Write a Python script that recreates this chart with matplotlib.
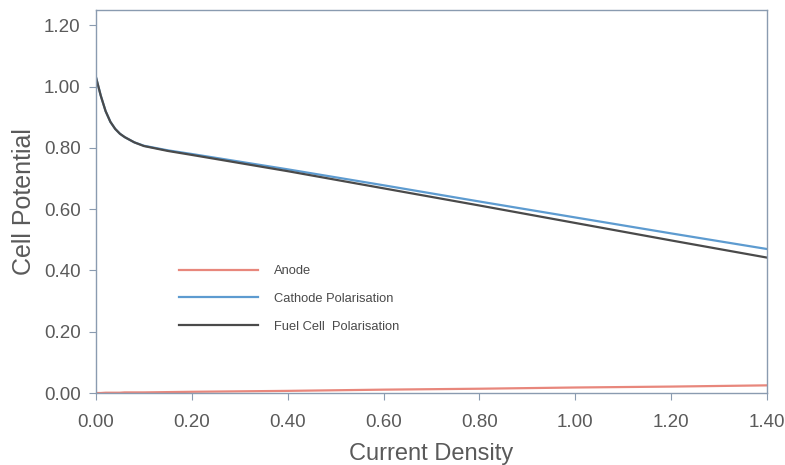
import matplotlib.pyplot as plt
import numpy as np

plt.rcParams['font.family'] = ['Liberation Sans', 'DejaVu Sans']

# Polarisation curve data
current_density = [0.00, 0.01, 0.02, 0.03, 0.04, 0.05, 0.06, 0.08, 0.10, 0.15,
                   0.20, 0.40, 0.60, 0.80, 1.00, 1.20, 1.40]
anode = [0.000, 0.000, 0.001, 0.001, 0.001, 0.001, 0.002, 0.002, 0.002, 0.003,
         0.004, 0.007, 0.011, 0.014, 0.018, 0.021, 0.025]
cathode = [1.03, 0.97, 0.92, 0.885, 0.862, 0.846, 0.835, 0.818, 0.807, 0.792,
           0.780, 0.730, 0.678, 0.625, 0.573, 0.521, 0.470]
fuel_cell = [1.03, 0.97, 0.92, 0.885, 0.862, 0.846, 0.835, 0.818, 0.806, 0.790,
             0.777, 0.724, 0.668, 0.612, 0.555, 0.498, 0.442]

x_ticks = [0.0, 0.2, 0.4, 0.6, 0.8, 1.0, 1.2, 1.4]
y_ticks = [0.0, 0.2, 0.4, 0.6, 0.8, 1.0, 1.2]

text_col = '#5a5a5a'
spine_col = '#8a9bb0'

fig = plt.figure(figsize=(7.85, 4.65), dpi=100)
ax = fig.add_axes([0.1223, 0.1548, 0.8547, 0.8237])

ax.plot(current_density, anode, color='#e8877c', lw=1.6, label='Anode')
ax.plot(current_density, cathode, color='#5d9bd0', lw=1.6, label='Cathode Polarisation')
ax.plot(current_density, fuel_cell, color='#4a4a4a', lw=1.6, label='Fuel Cell  Polarisation')

ax.set_xlim(0, 1.4)
ax.set_ylim(0, 1.25)
ax.set_xticks(x_ticks)
ax.set_yticks(y_ticks)
ax.set_xticklabels([f'{t:.2f}' for t in x_ticks])
ax.set_yticklabels([f'{t:.2f}' for t in y_ticks])
ax.tick_params(colors=spine_col, labelcolor=text_col, labelsize=13.5, length=5)
ax.tick_params(axis='x', pad=10)
ax.tick_params(axis='y', pad=6)
for s in ax.spines.values():
    s.set_color(spine_col)
    s.set_linewidth(1.0)

ax.set_xlabel('Current Density', fontsize=17, color=text_col, labelpad=9)
ax.set_ylabel('Cell Potential', fontsize=18, color=text_col, labelpad=6)

leg = ax.legend(loc='lower left', bbox_to_anchor=(0.107, 0.127), frameon=False,
                fontsize=9.3, handlelength=6.1, handletextpad=1.25, labelspacing=1.22)
for t in leg.get_texts():
    t.set_color('#4a4a4a')

fig.savefig('out.png', dpi=100)
